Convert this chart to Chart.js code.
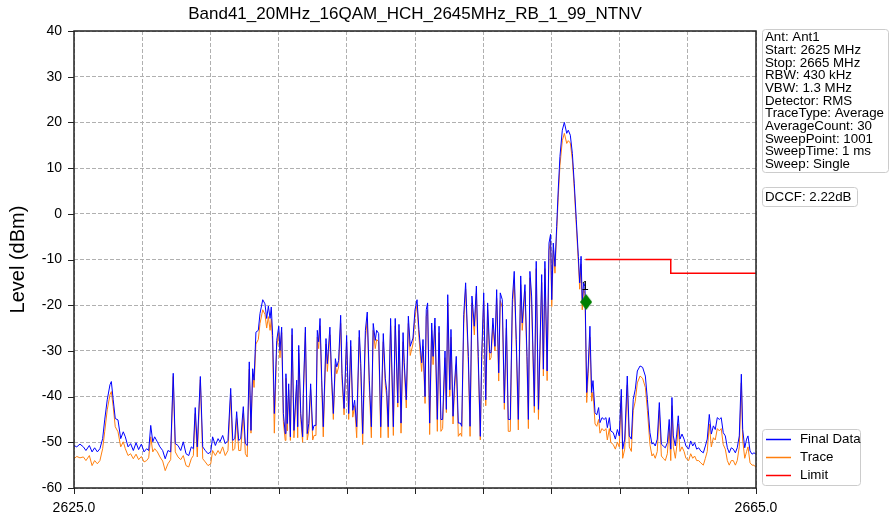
<!DOCTYPE html>
<html>
<head>
<meta charset="utf-8">
<script src="https://cdn.jsdelivr.net/npm/chart.js@4.4.0/dist/chart.umd.min.js"></script>
<style>
  html, body { margin: 0; padding: 0; background: #fff; }
  #wrap { width: 891px; height: 519px; }
</style>
</head>
<body>
<div id="wrap"><canvas id="spec" width="891" height="519"></canvas></div>
<script>
// spectrum trace (MHz / dBm)
const freq = [
  2625.00,2625.16,2625.35,2625.55,2625.70,2625.90,2626.06,2626.21,2626.37,2626.52,
  2626.68,2626.80,2626.95,2627.11,2627.19,2627.30,2627.42,2627.58,2627.74,2627.89,
  2628.01,2628.17,2628.32,2628.48,2628.64,2628.79,2628.95,2629.11,2629.26,2629.38,
  2629.50,2629.62,2629.73,2629.89,2630.04,2630.20,2630.35,2630.51,2630.67,2630.82,
  2630.94,2631.10,2631.26,2631.41,2631.57,2631.73,2631.88,2632.00,2632.11,2632.23,
  2632.41,2632.55,2632.70,2632.86,2633.02,2633.13,2633.29,2633.45,2633.56,2633.72,
  2633.87,2634.03,2634.19,2634.31,2634.43,2634.54,2634.66,2634.78,2634.93,2635.05,
  2635.16,2635.28,2635.38,2635.48,2635.56,2635.67,2635.81,2635.91,2636.07,2636.20,
  2636.30,2636.40,2636.50,2636.57,2636.65,2636.75,2636.89,2637.01,2637.08,2637.18,
  2637.28,2637.39,2637.43,2637.51,2637.59,2637.69,2637.79,2637.90,2638.06,2638.12,
  2638.18,2638.30,2638.41,2638.45,2638.57,2638.68,2638.77,2638.88,2639.00,2639.08,
  2639.19,2639.27,2639.35,2639.43,2639.53,2639.62,2639.78,2639.86,2640.01,2640.11,
  2640.21,2640.33,2640.41,2640.52,2640.64,2640.72,2640.84,2640.99,2641.11,2641.23,
  2641.35,2641.46,2641.58,2641.73,2641.82,2641.93,2642.09,2642.20,2642.32,2642.44,
  2642.55,2642.67,2642.75,2642.87,2642.99,2643.14,2643.26,2643.34,2643.43,2643.57,
  2643.73,2643.84,2643.99,2644.06,2644.18,2644.30,2644.37,2644.49,2644.61,2644.72,
  2644.88,2645.00,2645.12,2645.23,2645.39,2645.47,2645.59,2645.66,2645.74,2645.86,
  2645.98,2646.06,2646.17,2646.31,2646.41,2646.52,2646.62,2646.76,2646.84,2646.92,
  2647.04,2647.11,2647.23,2647.31,2647.42,2647.54,2647.66,2647.74,2647.86,2647.97,
  2648.13,2648.23,2648.34,2648.48,2648.60,2648.71,2648.83,2648.91,2649.03,2649.15,
  2649.26,2649.38,2649.46,2649.57,2649.69,2649.79,2649.91,2650.00,2650.12,2650.24,
  2650.36,2650.47,2650.59,2650.71,2650.82,2650.94,2651.06,2651.20,2651.29,2651.45,
  2651.57,2651.65,2651.74,2651.84,2652.00,2652.11,2652.24,2652.43,2652.53,2652.62,
  2652.75,2652.86,2652.95,2653.02,2653.11,2653.21,2653.31,2653.40,2653.50,2653.64,
  2653.76,2653.90,2653.99,2654.11,2654.23,2654.34,2654.46,2654.58,2654.66,2654.74,
  2654.81,2654.89,2654.97,2655.07,2655.16,2655.26,2655.36,2655.44,2655.56,2655.66,
  2655.77,2655.85,2655.97,2656.09,2656.20,2656.28,2656.40,2656.48,2656.63,2656.75,
  2656.87,2656.98,2657.10,2657.18,2657.30,2657.45,2657.57,2657.69,2657.80,2657.92,
  2658.04,2658.20,2658.35,2658.51,2658.63,2658.78,2658.90,2658.98,2659.09,2659.21,
  2659.33,2659.45,2659.56,2659.68,2659.80,2659.91,2660.00,2660.07,2660.15,2660.27,
  2660.35,2660.44,2660.54,2660.66,2660.78,2660.89,2661.05,2661.17,2661.29,2661.40,
  2661.52,2661.64,2661.76,2661.91,2662.03,2662.14,2662.26,2662.38,2662.50,2662.61,
  2662.73,2662.85,2662.96,2663.08,2663.20,2663.32,2663.43,2663.55,2663.67,2663.79,
  2663.90,2664.02,2664.14,2664.22,2664.34,2664.45,2664.53,2664.65,2664.77,2664.88,
  2665.00
];
const finalData = [
  -50.7,-51.0,-50.4,-51.0,-51.8,-50.7,-52.1,-51.2,-52.1,-51.4,
  -49.2,-45.1,-40.7,-37.4,-36.7,-40.7,-44.8,-45.1,-49.2,-47.7,
  -48.8,-51.0,-50.3,-51.8,-50.1,-51.6,-50.4,-52.1,-51.4,-51.8,
  -46.3,-49.9,-48.8,-49.9,-51.0,-51.8,-53.6,-51.8,-52.1,-34.9,
  -50.3,-50.7,-51.8,-49.9,-52.5,-52.9,-51.0,-51.4,-42.4,-51.0,
  -35.6,-51.0,-51.8,-52.5,-52.1,-48.8,-50.7,-49.2,-49.9,-48.5,
  -50.3,-49.6,-38.2,-49.6,-49.2,-43.3,-49.6,-49.2,-42.2,-50.3,
  -50.7,-32.4,-47.4,-33.9,-36.4,-25.9,-25.5,-21.8,-18.8,-19.7,
  -22.9,-20.2,-22.9,-20.4,-26.6,-43.7,-27.7,-24.6,-29.9,-24.8,
  -43.7,-48.1,-35.0,-45.9,-37.2,-48.8,-25.1,-47.4,-36.4,-46.6,
  -28.8,-43.7,-48.8,-39.3,-24.8,-48.1,-45.9,-37.2,-47.4,-46.3,
  -46.3,-25.5,-28.0,-22.9,-36.4,-46.6,-27.3,-32.8,-24.8,-35.7,
  -43.7,-31.7,-33.5,-32.1,-22.2,-35.0,-42.6,-26.6,-43.7,-27.7,
  -43.0,-40.8,-46.6,-25.5,-32.8,-48.1,-25.5,-21.5,-36.4,-46.6,
  -24.0,-27.7,-25.5,-26.2,-46.6,-26.2,-36.1,-38.6,-46.6,-22.9,
  -46.6,-22.9,-41.4,-24.2,-45.8,-26.0,-32.6,-40.7,-22.4,-29.0,
  -27.2,-21.0,-18.8,-25.3,-32.6,-27.5,-40.0,-21.0,-19.5,-45.8,
  -23.9,-31.2,-22.8,-45.0,-24.6,-45.0,-45.0,-30.0,-42.8,-17.7,
  -38.5,-25.3,-44.3,-37.7,-31.2,-45.8,-45.8,-46.5,-22.0,-15.1,
  -31.2,-46.5,-18.0,-24.6,-15.8,-31.2,-48.7,-31.2,-17.3,-40.7,
  -19.5,-30.4,-30.4,-22.8,-29.0,-16.6,-34.8,-17.3,-18.8,-41.4,
  -23.1,-45.0,-45.0,-18.8,-12.6,-27.5,-45.0,-13.6,-23.9,-15.5,
  -31.2,-45.0,-12.6,-18.0,-42.1,-10.4,-42.8,-13.3,-34.0,-10.4,
  -34.4,-6.4,-4.5,-18.8,-6.4,-11.5,-2.8,5.2,12.5,18.3,
  20.0,17.6,18.3,17.2,13.2,6.7,-1.3,-9.3,-15.1,-9.3,
  -19.5,-15.1,-15.9,-39.1,-33.3,-24.6,-39.1,-36.5,-43.5,-44.0,
  -42.4,-45.7,-44.6,-45.0,-44.6,-46.8,-44.6,-47.5,-47.9,-49.3,
  -47.2,-48.6,-38.4,-51.5,-49.3,-35.5,-48.6,-49.3,-40.6,-38.4,
  -34.4,-33.3,-33.6,-35.5,-40.6,-47.9,-50.4,-50.1,-50.8,-49.3,
  -41.3,-50.4,-50.8,-51.2,-50.1,-45.0,-51.5,-40.2,-48.6,-50.8,
  -48.2,-44.2,-49.3,-48.2,-49.3,-50.8,-51.5,-49.7,-50.8,-50.1,
  -51.5,-51.2,-51.9,-52.3,-50.8,-49.3,-43.9,-48.2,-46.4,-47.2,
  -44.6,-45.0,-44.6,-47.9,-48.6,-51.2,-52.3,-51.2,-51.5,-52.3,
  -51.2,-48.6,-35.1,-47.2,-51.2,-49.3,-48.6,-51.9,-52.6,-52.3,
  -52.6
];
const trace = [
  -53.6,-53.1,-53.4,-53.2,-54.0,-52.9,-55.1,-54.0,-54.7,-54.0,
  -51.4,-47.7,-42.9,-39.6,-38.9,-42.2,-46.6,-47.7,-51.0,-49.9,
  -51.4,-52.9,-52.5,-53.6,-52.6,-53.8,-53.1,-54.3,-54.0,-53.4,
  -48.8,-52.1,-51.4,-52.1,-53.2,-54.1,-56.2,-54.7,-53.8,-35.6,
  -52.1,-53.2,-53.8,-52.9,-55.1,-55.4,-53.6,-52.9,-43.7,-53.2,
  -36.3,-53.6,-54.3,-55.1,-54.7,-51.8,-52.9,-51.8,-52.5,-51.0,
  -52.9,-51.8,-39.6,-51.8,-51.4,-44.8,-51.8,-51.8,-43.7,-52.5,
  -53.2,-34.0,-48.0,-35.0,-38.0,-28.5,-27.5,-24.0,-21.0,-22.0,
  -25.0,-22.5,-25.5,-23.0,-28.5,-48.0,-29.0,-26.0,-31.5,-26.0,
  -45.5,-49.6,-36.0,-47.5,-38.5,-49.6,-26.5,-49.0,-37.5,-49.0,
  -30.5,-45.0,-50.0,-40.5,-26.0,-49.5,-47.5,-38.5,-49.5,-48.5,
  -48.5,-27.0,-29.5,-24.5,-38.0,-48.8,-28.5,-34.5,-26.5,-37.0,
  -45.0,-33.0,-35.0,-33.5,-24.0,-36.5,-44.0,-28.0,-45.0,-29.0,
  -44.5,-42.0,-49.0,-27.0,-34.5,-50.5,-27.5,-23.0,-38.0,-49.0,
  -25.5,-29.5,-27.5,-28.0,-49.0,-28.0,-37.5,-40.0,-49.0,-24.5,
  -48.5,-24.5,-42.3,-25.5,-48.0,-28.0,-34.0,-42.5,-24.0,-31.0,
  -28.5,-22.5,-19.9,-27.0,-34.5,-29.0,-41.5,-22.5,-21.0,-48.3,
  -25.5,-33.0,-24.5,-47.6,-26.0,-47.6,-47.0,-31.5,-43.5,-19.5,
  -40.0,-27.0,-46.0,-39.0,-33.0,-48.7,-48.0,-48.7,-24.0,-16.5,
  -33.0,-48.7,-19.5,-26.5,-17.5,-33.0,-49.5,-33.0,-19.0,-42.0,
  -21.0,-32.0,-31.5,-24.5,-30.0,-18.5,-36.6,-19.0,-20.5,-42.8,
  -25.0,-47.6,-47.6,-20.5,-14.5,-29.0,-47.3,-15.5,-25.5,-17.0,
  -33.0,-47.0,-14.0,-20.0,-43.5,-12.0,-45.0,-15.0,-35.5,-12.0,
  -36.5,-8.0,-6.0,-20.3,-8.0,-13.0,-4.0,3.5,10.5,16.0,
  17.6,15.4,16.0,15.5,11.8,5.5,-2.5,-10.5,-16.5,-11.0,
  -21.0,-16.5,-17.5,-41.3,-35.0,-27.0,-41.0,-39.0,-46.0,-46.5,
  -45.0,-48.0,-47.0,-47.5,-47.0,-49.5,-47.0,-50.0,-50.5,-51.5,
  -50.0,-51.0,-40.0,-53.5,-51.5,-37.5,-51.0,-52.0,-43.0,-41.0,
  -37.0,-35.5,-36.0,-38.0,-43.0,-50.5,-53.0,-52.5,-53.5,-52.0,
  -43.0,-53.0,-53.5,-54.0,-52.5,-47.0,-54.0,-42.0,-51.0,-53.5,
  -51.0,-46.0,-52.0,-51.0,-52.0,-53.5,-54.0,-52.5,-53.5,-53.0,
  -54.0,-54.0,-54.5,-55.0,-53.5,-52.0,-46.0,-51.0,-49.0,-49.5,
  -47.0,-47.5,-47.0,-50.5,-51.5,-54.0,-55.0,-54.0,-54.0,-55.0,
  -54.0,-51.0,-37.0,-49.5,-53.5,-52.0,-51.0,-54.5,-55.0,-55.0,
  -55.5
];
// limit line
const limitFreq = [2655, 2660, 2660, 2665];
const limitLevel = [-10, -10, -13, -13];
// marker 1
const markerFreq = [2655.04];
const markerLevel = [-19.3];
// axes
const yTicks = [40, 30, 20, 10, 0, -10, -20, -30, -40, -50, -60];
const xLabelled = [2625, 2665];
const infoLines = ['Ant: Ant1','Start: 2625 MHz','Stop: 2665 MHz','RBW: 430 kHz','VBW: 1.3 MHz',
  'Detector: RMS','TraceType: Average','AverageCount: 30','SweepPoint: 1001','SweepTime: 1 ms','Sweep: Single'];
const dccfText = 'DCCF: 2.22dB';
const chartTitle = 'Band41_20MHz_16QAM_HCH_2645MHz_RB_1_99_NTNV';

const FONT = '"Liberation Sans", Arial, sans-serif';

function diamond(){
  const c = document.createElement('canvas');
  c.width = 12; c.height = 16;
  const g = c.getContext('2d');
  g.fillStyle = '#008000';
  g.beginPath(); g.moveTo(6,0); g.lineTo(12,8); g.lineTo(6,16); g.lineTo(0,8); g.closePath(); g.fill();
  return c;
}

function roundBox(ctx, x, y, w, h, r){
  ctx.beginPath();
  ctx.moveTo(x+r, y); ctx.lineTo(x+w-r, y); ctx.quadraticCurveTo(x+w, y, x+w, y+r);
  ctx.lineTo(x+w, y+h-r); ctx.quadraticCurveTo(x+w, y+h, x+w-r, y+h);
  ctx.lineTo(x+r, y+h); ctx.quadraticCurveTo(x, y+h, x, y+h-r);
  ctx.lineTo(x, y+r); ctx.quadraticCurveTo(x, y, x+r, y);
  ctx.closePath();
  ctx.fillStyle = '#fff'; ctx.fill();
  ctx.strokeStyle = '#cccccc'; ctx.lineWidth = 1; ctx.stroke();
}

const decor = {
  id: 'decor',
  afterDatasetsDraw(chart){
    const {ctx, chartArea: a, scales} = chart;
    ctx.save();
    // frame
    ctx.strokeStyle = '#222'; ctx.lineWidth = 1.5;
    ctx.strokeRect(a.left, a.top, a.right - a.left, a.bottom - a.top);
    // tick marks
    ctx.lineWidth = 1;
    scales.x.ticks.forEach(t => {
      const px = Math.round(scales.x.getPixelForValue(t.value)) + 0.5;
      ctx.beginPath(); ctx.moveTo(px, a.bottom); ctx.lineTo(px, a.bottom + 6); ctx.stroke();
    });
    scales.y.ticks.forEach(t => {
      const py = Math.round(scales.y.getPixelForValue(t.value)) + 0.5;
      ctx.beginPath(); ctx.moveTo(a.left - 6, py); ctx.lineTo(a.left, py); ctx.stroke();
    });
    // marker label
    const mx = scales.x.getPixelForValue(markerFreq[0]);
    const my = scales.y.getPixelForValue(markerLevel[0]);
    ctx.fillStyle = '#000'; ctx.font = '13px ' + FONT;
    ctx.textAlign = 'center'; ctx.textBaseline = 'bottom';
    ctx.fillText('1', mx - 1, my - 9);
    // title
    ctx.font = '17px ' + FONT; ctx.textBaseline = 'middle';
    ctx.fillText(chartTitle, (a.left + a.right) / 2, 14);
    // info box
    ctx.textAlign = 'left';
    roundBox(ctx, 762.5, 29.5, 126, 143, 3);
    ctx.fillStyle = '#000'; ctx.font = '13.3px ' + FONT;
    infoLines.forEach((s, i) => ctx.fillText(s, 765, 37.5 + i * 12.7));
    roundBox(ctx, 762.5, 187.5, 95, 19, 3);
    ctx.fillStyle = '#000';
    ctx.fillText(dccfText, 765, 197.5);
    // legend
    roundBox(ctx, 762.5, 429.5, 98, 56, 3);
    chart.data.datasets.filter(d => d.inLegend).forEach((d, i) => {
      const y = 439.5 + i * 18;
      ctx.strokeStyle = d.borderColor; ctx.lineWidth = 1.5;
      ctx.beginPath(); ctx.moveTo(766, y); ctx.lineTo(791, y); ctx.stroke();
      ctx.fillStyle = '#000';
      ctx.fillText(d.label, 800, y);
    });
    ctx.restore();
  }
};

const pts = (xs, ys) => xs.map((x, i) => ({x: x, y: ys[i]}));

new Chart(document.getElementById('spec').getContext('2d'), {
  type: 'line',
  data: {
    datasets: [
      { label: 'Marker', data: pts(markerFreq, markerLevel), showLine: false,
        pointStyle: diamond(), pointRadius: 8, order: 0, inLegend: false },
      { label: 'Final Data', data: pts(freq, finalData), borderColor: '#0000ff', borderWidth: 1,
        pointRadius: 0, tension: 0, order: 1, inLegend: true },
      { label: 'Trace', data: pts(freq, trace), borderColor: '#ff7f0e', borderWidth: 1,
        pointRadius: 0, tension: 0, order: 2, inLegend: true },
      { label: 'Limit', data: pts(limitFreq, limitLevel), borderColor: '#ff0000', borderWidth: 1.5,
        pointRadius: 0, tension: 0, order: 3, inLegend: true }
    ]
  },
  options: {
    responsive: false,
    animation: false,
    devicePixelRatio: 1,
    layout: { padding: { left: 0, right: 135, top: 31, bottom: 0 } },
    plugins: { legend: { display: false }, tooltip: { enabled: false }, title: { display: false } },
    scales: {
      x: {
        type: 'linear', min: 2625, max: 2665,
        afterFit: s => { s.height = 31; },
        grid: { color: '#b0b0b0', lineWidth: 1, drawTicks: false, borderDash: [4, 2] },
        border: { display: false, dash: [4, 2] },
        ticks: {
          stepSize: 4, autoSkip: false, maxRotation: 0, padding: 12,
          color: '#000', font: { family: FONT, size: 14 },
          callback: v => xLabelled.includes(v) ? v.toFixed(1) : ''
        }
      },
      y: {
        min: yTicks[yTicks.length - 1], max: yTicks[0],
        afterFit: s => { s.width = 74; },
        grid: { color: '#b0b0b0', lineWidth: 1, drawTicks: false, borderDash: [4, 2] },
        border: { display: false, dash: [4, 2] },
        ticks: { stepSize: 10, padding: 12, color: '#000', font: { family: FONT, size: 14 } },
        title: { display: true, text: 'Level (dBm)', color: '#000',
                 font: { family: FONT, size: 20 }, padding: { top: 6, bottom: 0 } }
      }
    }
  },
  plugins: [decor]
});
</script>
</body>
</html>
